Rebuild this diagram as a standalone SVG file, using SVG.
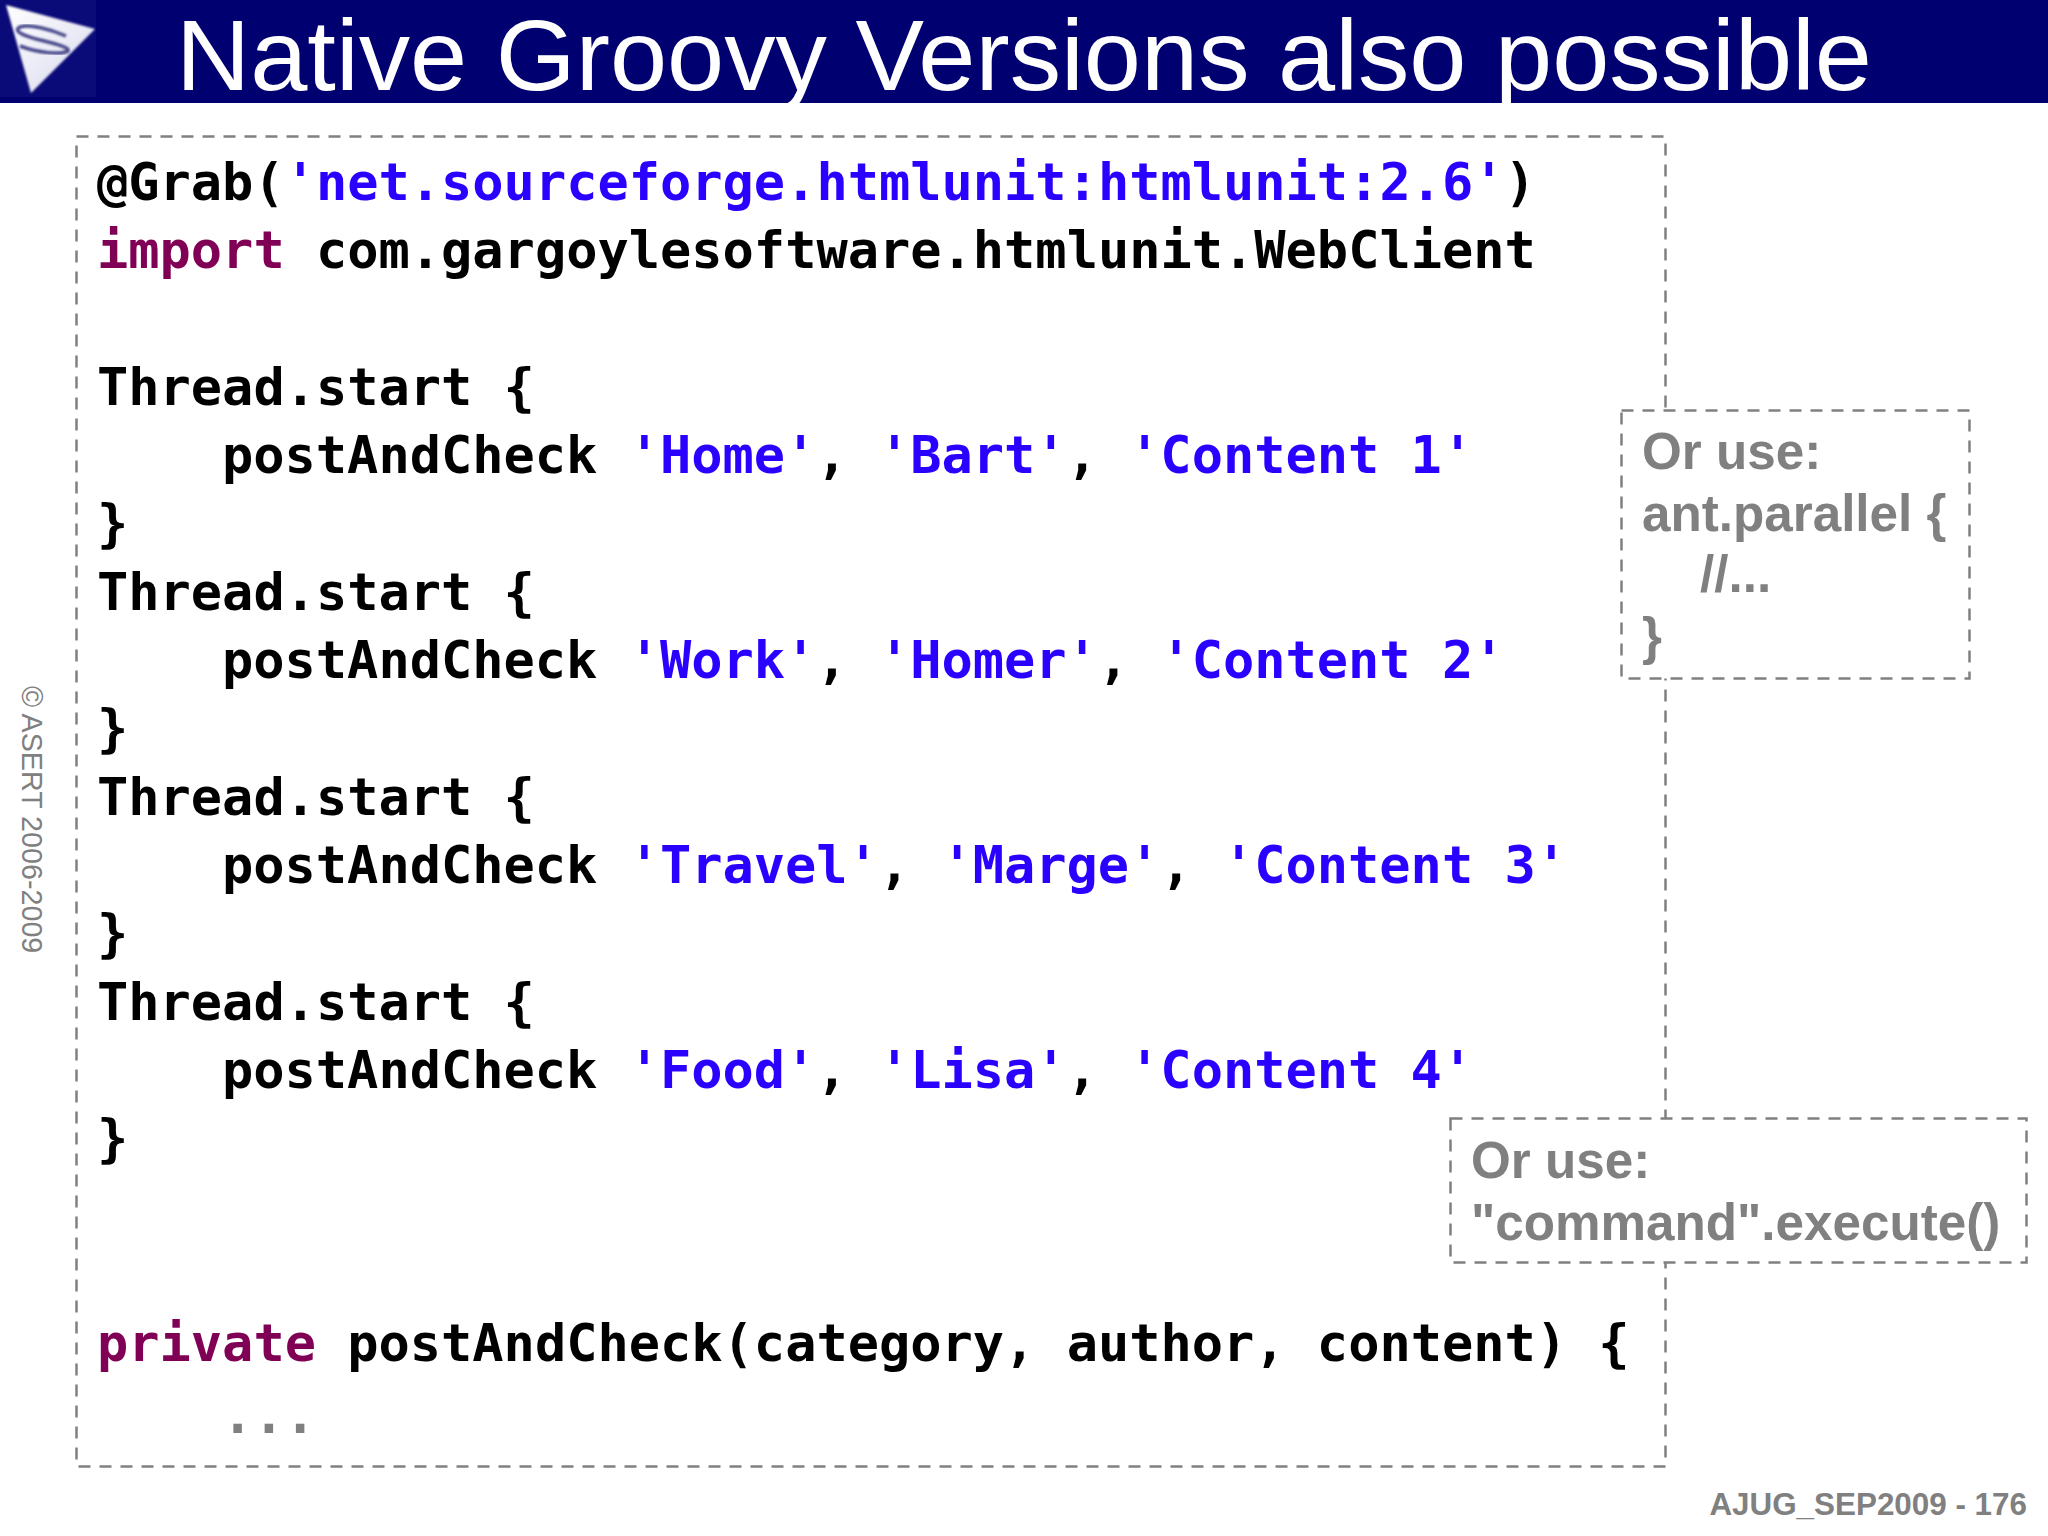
<svg xmlns="http://www.w3.org/2000/svg" width="2048" height="1536" viewBox="0 0 2048 1536">
<defs>
<linearGradient id="lg" x1="0" y1="0" x2="1" y2="1"><stop offset="0" stop-color="#ffffff"/><stop offset="1" stop-color="#d8d9ee"/></linearGradient>
<filter id="soft" x="-5%" y="-5%" width="110%" height="110%"><feGaussianBlur stdDeviation="1"/></filter>
</defs>
<style>
.c{font-family:"DejaVu Sans Mono","Liberation Mono",monospace;font-size:51.96px;font-weight:700;fill:#000;white-space:pre}
.k{fill:#7f0055}.s{fill:#2a00ff}
.n{font-family:"Liberation Sans",Arial,sans-serif;font-weight:700;font-size:51.2px;fill:#808080}
.b{fill:none;stroke:#808080;stroke-width:2.5;stroke-dasharray:12 9}
</style>
<rect width="2048" height="1536" fill="#fff"/>
<g id="header">
<rect width="2048" height="103" fill="#000070"/>
<rect width="96" height="97" fill="#0a0a78"/>
<path d="M6 5 95 29 31 93Z" fill="url(#lg)" filter="url(#soft)"/>
<path d="M66 36C50 29 30 24 20 27C12 31 24 36 40 40C52 43 70 47 68 51C62 55 38 53 20 46" fill="none" stroke="#4a4a8c" stroke-width="3.500" filter="url(#soft)"/>
<text x="176" y="90" font-family="Liberation Sans,Arial,sans-serif" font-size="100" fill="#fff" textLength="1696" lengthAdjust="spacingAndGlyphs">Native Groovy Versions also possible</text>
</g>
<text id="copyright" transform="translate(22 686) rotate(90)" font-family="Liberation Sans,Arial,sans-serif" font-size="28.700" fill="#808080">© ASERT 2006-2009</text>
<g id="code-box">
<rect class="b" x="76.500" y="136.500" width="1589" height="1330"/>
<text class="c" x="97" y="200">@Grab(<tspan class="s">'net.sourceforge.htmlunit:htmlunit:2.6'</tspan>)</text>
<text class="c" x="97" y="268"><tspan class="k">import</tspan> com.gargoylesoftware.htmlunit.WebClient</text>
<text class="c" x="97" y="405">Thread.start {</text>
<text class="c" x="222" y="473">postAndCheck <tspan class="s">'Home'</tspan>, <tspan class="s">'Bart'</tspan>, <tspan class="s">'Content 1'</tspan></text>
<text class="c" x="97" y="541">}</text>
<text class="c" x="97" y="610">Thread.start {</text>
<text class="c" x="222" y="678">postAndCheck <tspan class="s">'Work'</tspan>, <tspan class="s">'Homer'</tspan>, <tspan class="s">'Content 2'</tspan></text>
<text class="c" x="97" y="746">}</text>
<text class="c" x="97" y="815">Thread.start {</text>
<text class="c" x="222" y="883">postAndCheck <tspan class="s">'Travel'</tspan>, <tspan class="s">'Marge'</tspan>, <tspan class="s">'Content 3'</tspan></text>
<text class="c" x="97" y="951">}</text>
<text class="c" x="97" y="1020">Thread.start {</text>
<text class="c" x="222" y="1088">postAndCheck <tspan class="s">'Food'</tspan>, <tspan class="s">'Lisa'</tspan>, <tspan class="s">'Content 4'</tspan></text>
<text class="c" x="97" y="1156">}</text>
<text class="c" x="97" y="1361"><tspan class="k">private</tspan> postAndCheck(category, author, content) {</text>
<text class="c" x="222" y="1433" style="fill:#808080">...</text>
</g>
<g id="note-ant">
<rect x="1621.500" y="410.500" width="348" height="268" fill="#fff"/>
<rect class="b" x="1621.500" y="410.500" width="348" height="268"/>
<text class="n" x="1642" y="469">Or use:</text>
<text class="n" x="1642" y="531">ant.parallel {</text>
<text class="n" x="1700" y="592">//...</text>
<text class="n" x="1642" y="654">}</text>
</g>
<g id="note-command">
<rect x="1450.500" y="1118.500" width="576" height="144" fill="#fff"/>
<rect class="b" x="1450.500" y="1118.500" width="576" height="144"/>
<text class="n" x="1471" y="1178">Or use:</text>
<text class="n" x="1471" y="1240">"command".execute()</text>
</g>
<text id="footer" x="2027" y="1515" text-anchor="end" font-family="Liberation Sans,Arial,sans-serif" font-weight="700" font-size="31.400" fill="#808080">AJUG_SEP2009 - 176</text>
</svg>
